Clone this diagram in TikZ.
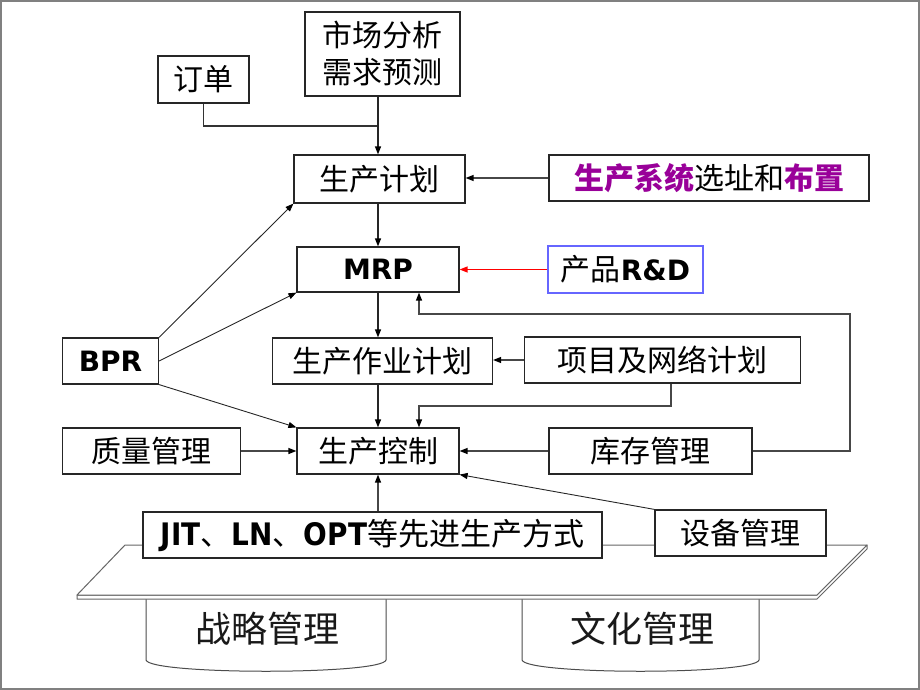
\documentclass[tikz,border=0pt]{standalone}
\usepackage{fontspec}
\newfontfamily\cjk{Noto Sans CJK SC}
\newfontfamily\dvs{DejaVu Sans}
\newfontfamily\dvc{DejaVu Sans Condensed}
\usetikzlibrary{arrows.meta,calc}
\definecolor{purp}{RGB}{153,0,153}
\definecolor{rdblue}{RGB}{102,102,255}
\definecolor{framegray}{RGB}{128,128,128}
\newcommand{\xzText}[2]{{\bfseries\color{#1}生产系统}{\color{#2}选址和}{\bfseries\color{#1}布置}}
\newcommand{\latb}[1]{{\dvc\bfseries\fontsize{31}{36}\selectfont #1}}
\tikzset{
  box/.style={draw=black!85, line width=1.2pt, fill=white, inner sep=0pt,
    minimum height=46pt, font=\cjk\fontsize{30}{36}\selectfont},
  lat/.style={font=\dvs\bfseries\fontsize{28}{34}\selectfont},
  conn/.style={draw=black!72, line width=1.3pt, -{Triangle[length=8pt,width=6pt,color=black]}},
  mainconn/.style={draw=black!85, line width=1.3pt, -{Triangle[length=8pt,width=6pt,color=black]}},
  thinconn/.style={draw=black!85, line width=0.9pt, -{Triangle[length=8pt,width=6pt,color=black]}},
  plain/.style={draw=black!80, line width=1.4pt},
  plat/.style={draw=black!60, line width=1pt, fill=white, line join=round},
  cyl/.style={draw=black!70, line width=1pt, fill=white},
  cyltxt/.style={font=\cjk\fontsize{36}{40}\selectfont, text=black!90},
}
\begin{document}
\begin{tikzpicture}[x=1pt,y=-1pt]
\useasboundingbox (0,0) rectangle (920,690);
\draw[framegray, line width=2pt] (1,1) rectangle (918.5,688.5);

% cylinders
\draw[cyl] (146,590) -- (146,660) .. controls (150,675) and (382,675) .. (386,660) -- (386,590);
\draw[cyl] (522,590) -- (522,660) .. controls (526,675) and (755,675) .. (759,660) -- (759,590);
\node[cyltxt] (zlue) at (267,629) {战略管理};
\node[cyltxt] (wenhua) at (642,629) {文化管理};

% platform
\draw[plat] (77,595) -- (77,599) -- (817,599) -- (867,549) -- (867,545) -- (817,595) -- cycle;
\draw[plat] (125,545) -- (867,545) -- (817,595) -- (77,595) -- cycle;

% nodes
\node[box, minimum width=91pt, minimum height=47pt] (dingdan) at (203.5,79.5) {订单};
\node[box, minimum width=155pt, minimum height=84pt, align=center,
  font=\cjk\fontsize{30}{37}\selectfont] (shichang) at (382.5,54) {市场分析\\需求预测};
\node[box, minimum width=171pt, minimum height=48pt] (scjh) at (379.5,179) {生产计划};
\node[box, minimum width=320pt] (xuanzhi) at (709,178) {\xzText{purp}{black}};
\node[box, minimum width=162pt, minimum height=45pt, lat] (mrp) at (378,269.5) {MRP};
\node[box, draw=rdblue, minimum width=155pt, minimum height=47pt] (rd) at (625.5,269.5) {产品{\dvs\bfseries\fontsize{28}{34}\selectfont R\&D}};
\node[box, minimum width=96pt, lat] (bpr) at (110.5,361) {BPR};
\node[box, minimum width=220pt] (zyjh) at (382.5,361) {生产作业计划};
\node[box, minimum width=276pt] (xmjh) at (662.5,360) {项目及网络计划};
\node[box, minimum width=178pt] (zlgl) at (151.5,451) {质量管理};
\node[box, minimum width=162pt] (sckz) at (378,451) {生产控制};
\node[box, minimum width=203pt] (kcgl) at (650.5,451) {库存管理};
\node[box, minimum width=459pt, font=\cjk\fontsize{31}{36}\selectfont] (jit) at (372.5,535) {\latb{JIT}、\latb{LN}、\latb{OPT}等先进生产方式};
\node[box, minimum width=171pt] (sbgl) at (740.5,533) {设备管理};

% connectors
\coordinate (j1) at (378,126);
\draw[plain] (dingdan.south) |- (j1);
\draw[mainconn] (shichang.south -| j1) -- (scjh.north -| j1);
\draw[mainconn] (scjh.south -| j1) -- (mrp.north -| j1);
\draw[mainconn] (mrp.south -| j1) -- (zyjh.north -| j1);
\draw[mainconn] (zyjh.south -| j1) -- (sckz.north -| j1);
\draw[conn] (jit.north -| j1) -- (sckz.south -| j1);

\draw[conn] (xuanzhi.west) -- (xuanzhi.west -| scjh.east);
\draw[draw=red, line width=1.3pt, -{Triangle[length=8pt,width=6pt]}] (rd.west) -- (rd.west -| mrp.east);
\draw[conn] (xmjh.west) -- (xmjh.west -| zyjh.east);
\draw[conn] (kcgl.west) -- (sckz.east);
\draw[conn] (zlgl.east) -- (sckz.west);

\coordinate (k1) at (671,406);
\coordinate (k2) at (419,406);
\draw[conn] (xmjh.south -| k1) -- (k1) -- (k2) -- (k2 |- sckz.north);
\coordinate (m1) at (850,314);
\coordinate (m2) at (419,314);
\draw[conn] (kcgl.east) -- (kcgl.east -| m1) -- (m1) -- (m2) -- (m2 |- mrp.south);

\draw[thinconn] (bpr.north east) -- (scjh.south west);
\draw[thinconn] (bpr.east) -- (mrp.south west);
\draw[thinconn] (bpr.south east) -- (sckz.north west);
\draw[thinconn] (sbgl.north west) -- (sckz.south east);
\end{tikzpicture}
\end{document}
